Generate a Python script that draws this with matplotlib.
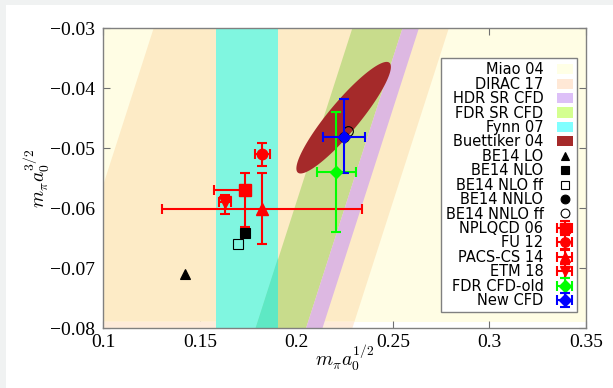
import numpy as np
import matplotlib
matplotlib.use('Agg')
import matplotlib.pyplot as plt
from matplotlib.patches import Polygon, Rectangle, Patch
from matplotlib.ticker import FuncFormatter

plt.rcParams['font.family'] = 'Liberation Serif'
plt.rcParams['mathtext.fontset'] = 'cm'

# slanted bands given as limits on (x - y), vertical band on x
dirac_band = (0.156, 0.309)
fdr_band = (0.259, 0.285)
hdr_band = (0.285, 0.2935)
fynn_band = (0.1585, 0.1907)
miao_ybottom = -0.0789

# Buettiker 04 ellipse
buett_center = (0.2245, -0.0449)
buett_sigma = (0.0245, 0.0093)
buett_rho = 0.91

# BE14 points (no errors)
be14_labels = ['BE14 LO', 'BE14 NLO', 'BE14 NLO ff', 'BE14 NNLO', 'BE14 NNLO ff']
be14_x = [0.1424, 0.1735, 0.1695, 0.2245, 0.2270]
be14_y = [-0.0710, -0.0641, -0.0660, -0.0481, -0.0471]

# points with errors
pt_labels = ['NPLQCD 06', 'FU 12', 'PACS-CS 14', 'ETM 18', 'FDR CFD-old', 'New CFD']
pt_x = [0.1735, 0.1822, 0.1822, 0.1631, 0.2207, 0.2246]
pt_y = [-0.0570, -0.0509, -0.0601, -0.0590, -0.0540, -0.0481]
pt_xerr_lo = [0.0161, 0.0039, 0.0517, 0.0030, 0.0100, 0.0108]
pt_xerr_hi = [0.0023, 0.0039, 0.0517, 0.0030, 0.0100, 0.0108]
pt_yerr_lo = [0.0062, 0.0021, 0.0059, 0.0020, 0.0100, 0.0061]
pt_yerr_hi = [0.0029, 0.0018, 0.0059, 0.0012, 0.0100, 0.0063]

xticks = [0.1, 0.15, 0.2, 0.25, 0.3, 0.35]
yticks = [-0.08, -0.07, -0.06, -0.05, -0.04, -0.03]


def slant_band(c_lo, c_hi, y0, y1):
    return [(c_lo + y0, y0), (c_hi + y0, y0), (c_hi + y1, y1), (c_lo + y1, y1)]


fig = plt.figure(figsize=(6.13, 3.88), dpi=100)
# grey page border seen in the screenshot
fig.patches.append(Rectangle((0, 1 - 5 / 388), 1, 5 / 388, transform=fig.transFigure,
                             facecolor='#F0F2F2', edgecolor='none', zorder=-5))
fig.patches.append(Rectangle((0, 0), 6 / 613, 1, transform=fig.transFigure,
                             facecolor='#F0F2F2', edgecolor='none', zorder=-5))

ax = fig.add_axes([0.1688, 0.1539, 0.9555 - 0.1688, 0.9271 - 0.1539])

ytop, ybot = -0.025, -0.085

# Miao 04 (light yellow)
ax.add_patch(Rectangle((0.05, miao_ybottom), 0.4, ytop - miao_ybottom,
                       facecolor='#FFFDE4', edgecolor='none', zorder=1))
# DIRAC 17
ax.add_patch(Polygon(slant_band(*dirac_band, miao_ybottom, ytop),
                     facecolor='#FDEBC6', edgecolor='none', zorder=2))
ax.add_patch(Polygon(slant_band(*dirac_band, ybot, miao_ybottom),
                     facecolor='#FEEBDA', edgecolor='none', zorder=2))
# Fynn 07
ax.add_patch(Rectangle((fynn_band[0], ybot), fynn_band[1] - fynn_band[0], ytop - ybot,
                       facecolor='#80F6E0', edgecolor='none', zorder=3))
# FDR SR CFD
ax.add_patch(Polygon(slant_band(*fdr_band, ybot, ytop),
                     facecolor='#C8DC8C', edgecolor='none', zorder=4))
# overlap of FDR band with Fynn band
ov = [(fdr_band[0] + ybot, ybot), (fynn_band[1], ybot),
      (fynn_band[1], fynn_band[1] - fdr_band[0])]
ax.add_patch(Polygon(ov, facecolor='#5EE8C4', edgecolor='none', zorder=4))
# HDR SR CFD
ax.add_patch(Polygon(slant_band(*hdr_band, ybot, ytop),
                     facecolor='#DDB8E2', edgecolor='none', zorder=5))

# Buettiker 04 ellipse
t = np.linspace(0, 2 * np.pi, 300)
ex = buett_center[0] + buett_sigma[0] * np.cos(t)
ey = buett_center[1] + buett_sigma[1] * (buett_rho * np.cos(t)
                                         + np.sqrt(1 - buett_rho ** 2) * np.sin(t))
ax.fill(ex, ey, color='#A52A2A', zorder=6, lw=0)

# points with error bars
pt_style = [('s', '#FF0000', 8.5), ('o', '#FF0000', 7.5), ('^', '#FF0000', 8.5),
            ('v', '#FF0000', 8.5), ('D', '#00FF00', 6.5), ('D', '#0000FF', 6.5)]
pt_handles = []
for i in range(len(pt_labels)):
    m, c, ms = pt_style[i]
    z = 9 if i >= 4 else 7
    h = ax.errorbar([pt_x[i]], [pt_y[i]],
                    xerr=[[pt_xerr_lo[i]], [pt_xerr_hi[i]]],
                    yerr=[[pt_yerr_lo[i]], [pt_yerr_hi[i]]],
                    fmt=m, color=c, ms=ms, elinewidth=1.5, capsize=3.5,
                    capthick=1.5, zorder=z)
    pt_handles.append(h)

# BE14 points
be_style = [('^', 'k', 'k', 7), ('s', 'k', 'k', 7), ('s', 'none', 'k', 7),
            ('o', 'k', 'k', 7), ('o', 'none', 'k', 7)]
be_handles = []
for i in range(len(be14_labels)):
    m, fc, ec, ms = be_style[i]
    h, = ax.plot([be14_x[i]], [be14_y[i]], linestyle='none', marker=m, ms=ms,
                 markerfacecolor=fc, markeredgecolor=ec, markeredgewidth=0.8, zorder=8)
    be_handles.append(h)

ax.set_xlim(0.1, 0.35)
ax.set_ylim(-0.08, -0.03)
ax.set_xticks(xticks)
ax.set_yticks(yticks)
fmt = FuncFormatter(lambda v, p: ('%g' % v).replace('-', '\u2212'))
ax.xaxis.set_major_formatter(fmt)
ax.yaxis.set_major_formatter(fmt)
ax.tick_params(direction='in', top=True, right=True, length=5, width=0.8,
               color='#707070', labelsize=14)
ax.tick_params(axis='x', pad=4)
ax.tick_params(axis='y', pad=6)
for s in ax.spines.values():
    s.set_color('#808080')
    s.set_linewidth(1.0)
    s.set_zorder(20)

ax.set_xlabel(r'$m_\pi a_0^{1/2}$', fontsize=14)
ax.xaxis.set_label_coords(0.5, -0.045)
ax.set_ylabel(r'$m_\pi a_0^{3/2}$', fontsize=14)
ax.yaxis.set_label_coords(-0.107, 0.5)

band_labels = ['Miao 04', 'DIRAC 17', 'HDR SR CFD', 'FDR SR CFD', 'Fynn 07', 'Buettiker 04']
band_colors = ['#FFFFE6', '#FFE8D6', '#DDC0F8', '#D4FF90', '#80FFFF', '#A52A2A']
band_handles = [Patch(facecolor=c, edgecolor='none') for c in band_colors]

leg = ax.legend(band_handles + be_handles + pt_handles,
                band_labels + be14_labels + pt_labels,
                loc='upper right', bbox_to_anchor=(0.982, 0.901), borderaxespad=0,
                markerfirst=False, prop={'family': 'DejaVu Sans', 'size': 10.5},
                labelspacing=-0.04, handlelength=1.1, handletextpad=0.9,
                borderpad=0.3, markerscale=0.9, fancybox=False, framealpha=1,
                edgecolor='#808080')
leg.get_frame().set_linewidth(1.0)
leg.set_zorder(30)

fig.savefig('out.png', dpi=100)
